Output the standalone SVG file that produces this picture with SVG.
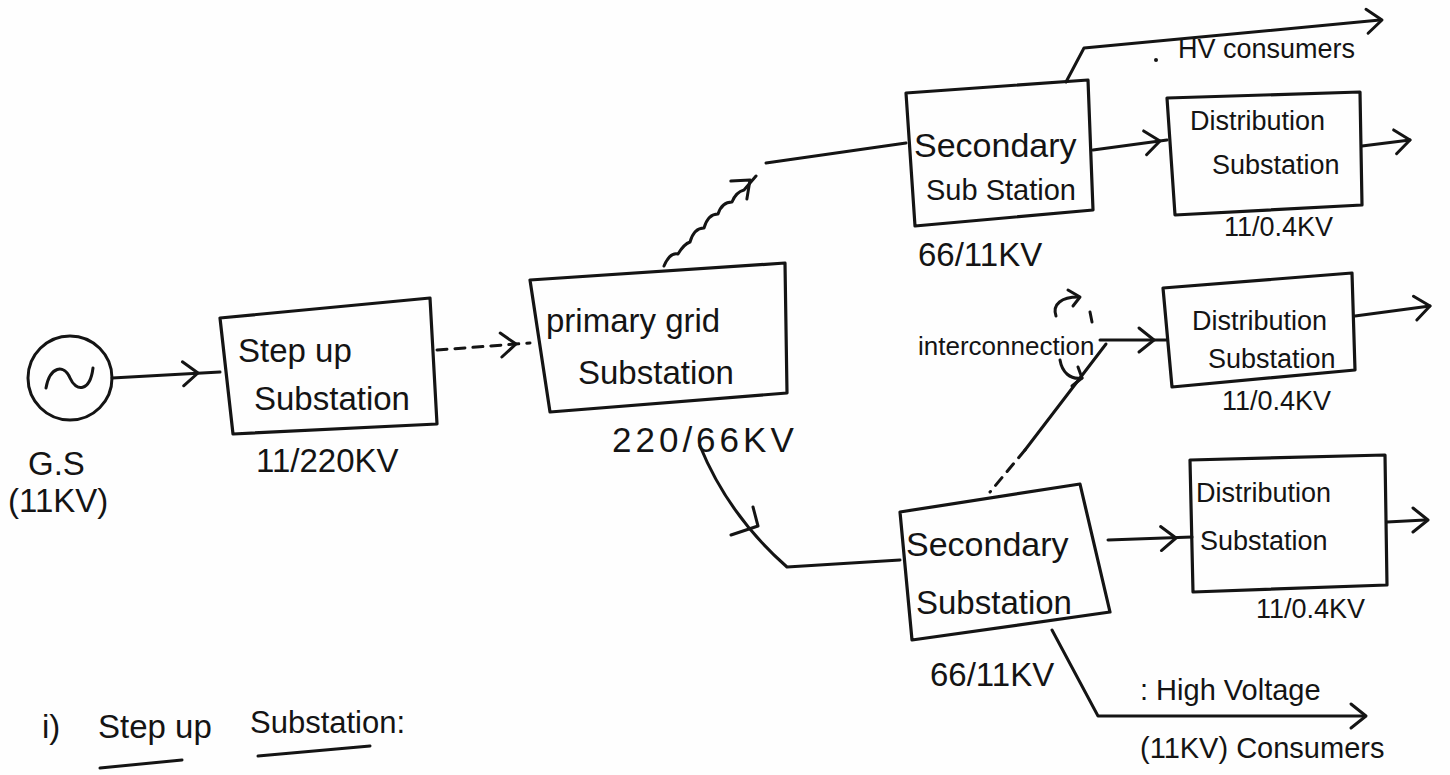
<svg xmlns="http://www.w3.org/2000/svg" xmlns:xlink="http://www.w3.org/1999/xlink" width="1450" height="775" viewBox="0 0 1450 775">
  <style>
    .ink { fill: none; stroke: #141414; stroke-width: 3; stroke-linecap: round; stroke-linejoin: round; }
    .box { fill: none; stroke: #141414; stroke-width: 3.2; stroke-linejoin: round; }
    .dash { stroke-dasharray: 10 8; }
    .t { font-family: "Liberation Sans", "DejaVu Sans", sans-serif; fill: #141414; }
    .big { font-size: 33px; }
    .mid { font-size: 29px; }
    .small { font-size: 27px; }
  </style>
  <defs>
    <!-- open chevron arrowhead, tip at origin pointing along +x -->
    <path id="chev" d="M-15,-12 L0,0 L-15,12" fill="none" stroke="#141414" stroke-width="3" stroke-linecap="round" stroke-linejoin="round"/>
  </defs>

  <rect width="1450" height="775" fill="#fefefe"/>

  <!-- generating station -->
  <g id="generator">
    <circle cx="70" cy="378" r="42" class="ink"/>
    <path d="M46,388 C50,366 64,364 70,378 C76,392 90,392 93,368" class="ink"/>
    <text x="28" y="475" class="t big">G.S</text>
    <text x="8" y="512" class="t big">(11KV)</text>
  </g>

  <!-- step up substation -->
  <g id="stepup">
    <polygon points="220,318 430,298 437,424 233,434" class="box"/>
    <text x="238" y="362" class="t big">Step up</text>
    <text x="254" y="410" class="t big">Substation</text>
    <text x="256" y="472" class="t big">11/220KV</text>
  </g>

  <!-- primary grid substation -->
  <g id="primary">
    <polygon points="530,280 785,263 787,393 550,412" class="box"/>
    <text x="546" y="332" class="t big">primary grid</text>
    <text x="578" y="384" class="t big">Substation</text>
    <text x="612" y="452" class="t" font-size="35" letter-spacing="4">220/66KV</text>
  </g>

  <!-- secondary substation (upper) -->
  <g id="secondary-upper">
    <polygon points="906,93 1088,80 1093,210 915,226" class="box"/>
    <text x="914" y="157" class="t" font-size="34">Secondary</text>
    <text x="926" y="200" class="t mid">Sub Station</text>
    <text x="918" y="266" class="t big">66/11KV</text>
  </g>

  <!-- secondary substation (lower) -->
  <g id="secondary-lower">
    <polygon points="900,512 1080,484 1110,612 912,640" class="box"/>
    <text x="906" y="556" class="t" font-size="34">Secondary</text>
    <text x="916" y="614" class="t big">Substation</text>
    <text x="930" y="686" class="t big">66/11KV</text>
  </g>

  <!-- distribution substations -->
  <g id="distribution-1">
    <polygon points="1167,98 1360,92 1362,205 1175,215" class="box"/>
    <text x="1190" y="130" class="t small">Distribution</text>
    <text x="1212" y="174" class="t small">Substation</text>
    <text x="1224" y="236" class="t small">11/0.4KV</text>
  </g>
  <g id="distribution-2">
    <polygon points="1163,288 1352,273 1355,370 1172,387" class="box"/>
    <text x="1192" y="330" class="t small">Distribution</text>
    <text x="1208" y="368" class="t small">Substation</text>
    <text x="1222" y="410" class="t small">11/0.4KV</text>
  </g>
  <g id="distribution-3">
    <polygon points="1190,460 1385,455 1387,585 1193,592" class="box"/>
    <text x="1196" y="502" class="t small">Distribution</text>
    <text x="1200" y="550" class="t small">Substation</text>
    <text x="1256" y="618" class="t small">11/0.4KV</text>
  </g>

  <!-- free labels -->
  <g id="labels">
    <circle cx="1156" cy="60" r="2" fill="#141414"/>
    <text x="1178" y="58" class="t small">HV consumers</text>
    <text x="918" y="355" class="t" font-size="26">interconnection</text>
    <text x="1140" y="700" class="t mid">: High Voltage</text>
    <text x="1140" y="758" class="t mid">(11KV) Consumers</text>
    <text x="42" y="738" class="t" font-size="33">i)</text>
    <text x="98" y="738" class="t" font-size="33">Step up</text>
    <text x="250" y="733" class="t" font-size="31">Substation:</text>
    <path d="M100,768 L182,760" class="ink"/>
    <path d="M258,756 L370,746" class="ink"/>
  </g>

  <!-- connectors -->
  <g id="connectors">
    <!-- generator to step up -->
    <path d="M112,378 L220,372" class="ink"/>
    <use href="#chev" transform="translate(198,373) rotate(-3)"/>

    <!-- step up to primary grid -->
    <path d="M437,350 L530,343" class="ink dash"/>
    <use href="#chev" transform="translate(516,344) rotate(-4)"/>

    <!-- primary grid to upper secondary -->
    <path d="M664,266 q6,-14 14,-12 q6,-10 12,-12 q4,-14 14,-14 q4,-14 14,-14 q4,-12 14,-12 q4,-10 12,-12 l12,-14" class="ink"/>
    <use href="#chev" transform="translate(750,180) rotate(-42)"/>
    <path d="M766,163 L906,143" class="ink"/>

    <!-- primary grid to lower secondary -->
    <path d="M700,446 C718,490 745,530 787,567 L900,560" class="ink"/>
    <path d="M753,507 L758,526 L731,535" class="ink"/>

    <!-- upper secondary to HV consumers -->
    <path d="M1066,82 L1084,48 L1380,20" class="ink"/>
    <use href="#chev" transform="translate(1382,20) rotate(-5)"/>

    <!-- upper secondary to distribution 1 -->
    <path d="M1093,150 L1167,140" class="ink"/>
    <use href="#chev" transform="translate(1160,141) rotate(-7)"/>
    <path d="M1362,146 L1410,140" class="ink"/>
    <use href="#chev" transform="translate(1410,140) rotate(-7)"/>

    <!-- interconnection to distribution 2 -->
    <path d="M1100,340 L1166,340" class="ink"/>
    <use href="#chev" transform="translate(1154,340)"/>
    <path d="M1355,316 L1430,306" class="ink"/>
    <use href="#chev" transform="translate(1430,306) rotate(-8)"/>

    <!-- lower secondary up to interconnection -->
    <path d="M1106,344 L1025,450" class="ink"/>
    <path d="M1025,450 L990,492" class="ink dash"/>
    <!-- curved direction arrows at the interconnection -->
    <path d="M1056,316 C1052,304 1062,297 1078,297" class="ink"/>
    <path d="M1068,290 L1080,297 L1073,306" class="ink"/>
    <path d="M1090,312 L1092,322" class="ink"/>
    <path d="M1060,360 C1062,372 1070,380 1082,378" class="ink"/>
    <path d="M1072,386 L1082,378 L1078,367" class="ink"/>

    <!-- lower secondary to distribution 3 -->
    <path d="M1108,540 L1192,537" class="ink"/>
    <use href="#chev" transform="translate(1176,538) rotate(-2)"/>
    <path d="M1387,522 L1425,520" class="ink" stroke-width="6"/>
    <use href="#chev" transform="translate(1428,520)"/>

    <!-- lower secondary to high voltage consumers -->
    <path d="M1052,630 L1098,716 L1365,716" class="ink"/>
    <use href="#chev" transform="translate(1366,716)"/>
  </g>
</svg>
